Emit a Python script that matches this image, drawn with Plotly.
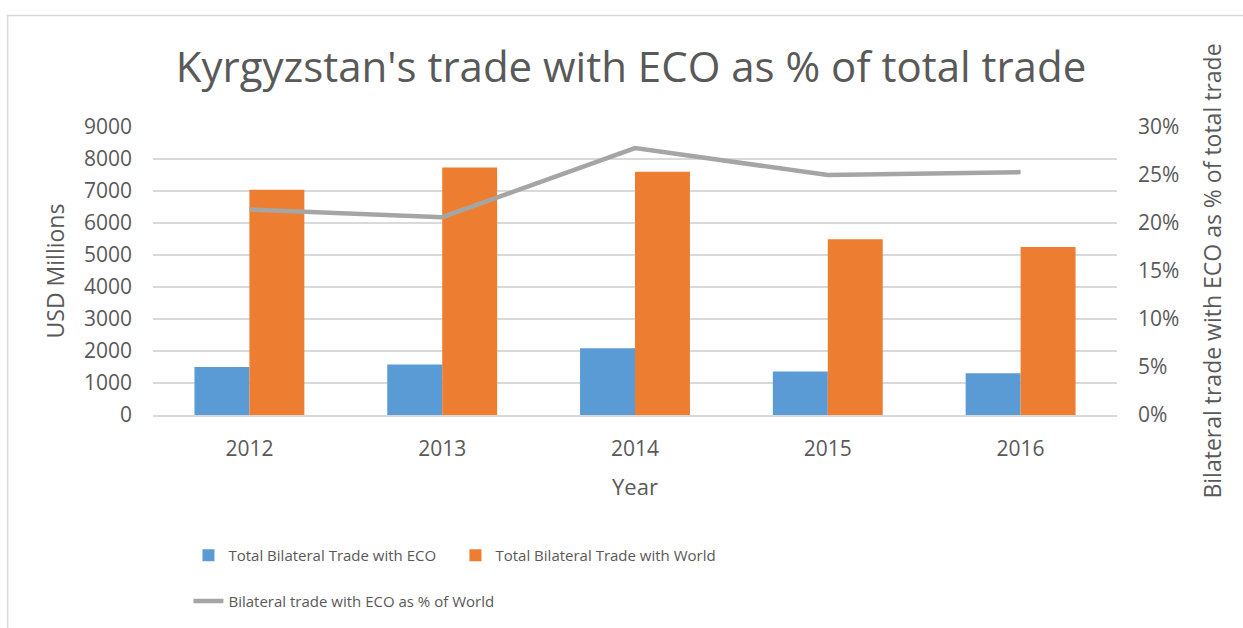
import plotly.graph_objects as go

years = ["2012", "2013", "2014", "2015", "2016"]
eco_trade = [1500, 1576, 2087, 1358, 1308]
world_trade = [7040, 7735, 7600, 5492, 5252]
eco_share = [0.214, 0.206, 0.278, 0.250, 0.253]

W, H = 1243, 628
L, R = 152.5, 1117.5
T, B = 126.7, 415.3
pw, ph = R - L, B - T

def px_x(x):
    return (x - L) / pw

def px_y(y):
    return (B - y) / ph

text_col = "#595959"
font_main = "Open Sans, Liberation Sans, sans-serif"
legend_font = "Open Sans, sans-serif"

fig = go.Figure()
fig.add_trace(go.Bar(x=years, y=eco_trade, name="Total Bilateral Trade with ECO",
                     marker=dict(color="#5b9bd5", line=dict(width=0)), legend="legend"))
fig.add_trace(go.Bar(x=years, y=world_trade, name="Total Bilateral Trade with World",
                     marker=dict(color="#ed7d31", line=dict(width=0)), legend="legend"))
fig.add_trace(go.Scatter(x=years, y=eco_share, name="Bilateral trade with ECO as % of World",
                         mode="lines", line=dict(color="#a5a5a5", width=4.5),
                         yaxis="y2", legend="legend2"))

fig.update_layout(
    width=W, height=H,
    margin=dict(l=L, r=W - R, t=T, b=H - B, autoexpand=False),
    paper_bgcolor="white", plot_bgcolor="white",
    barmode="group", bargap=0.43, bargroupgap=0,
    font=dict(family=font_main, color=text_col, size=20),
    title=dict(text="Kyrgyzstan's trade with ECO as % of total trade",
               x=631 / W, xref="container", xanchor="center",
               y=1 - 67 / H, yref="container", yanchor="middle",
               font=dict(size=42, color=text_col, family=font_main)),
    xaxis=dict(type="category", showgrid=False, showline=True, linecolor="#d9d9d9",
               linewidth=1.5, ticks="", ticklabelstandoff=14,
               tickfont=dict(size=21, color=text_col),
               title=dict(text="Year", standoff=19, font=dict(size=22, color=text_col))),
    yaxis=dict(range=[0, 9000], dtick=1000, showgrid=True, gridcolor="#d9d9d9",
               gridwidth=1.5, zeroline=False, showline=False, ticks="",
               ticklabelstandoff=20, tickfont=dict(size=21, color=text_col),
               title=dict(text="USD Millions", standoff=12, font=dict(size=23, color=text_col))),
    yaxis2=dict(range=[0, 0.3], dtick=0.05, tickformat=".0%", overlaying="y", side="right",
                showgrid=False, zeroline=False, showline=False, ticks="",
                ticklabelstandoff=20, tickfont=dict(size=21, color=text_col),
                title=dict(text="Bilateral trade with ECO as % of total trade", standoff=26,
                           font=dict(size=23, color=text_col))),
    legend=dict(orientation="h", x=px_x(188), xanchor="left", y=px_y(556), yanchor="middle",
                entrywidth=222, font=dict(size=15, color=text_col, family=legend_font),
                bgcolor="rgba(0,0,0,0)", tracegroupgap=0),
    legend2=dict(orientation="h", x=px_x(188), xanchor="left", y=px_y(602), yanchor="middle",
                 font=dict(size=15, color=text_col, family=legend_font),
                 bgcolor="rgba(0,0,0,0)"),
    shapes=[dict(type="rect", xref="paper", yref="paper",
                 x0=px_x(7), x1=px_x(1260), y0=px_y(660), y1=px_y(15),
                 line=dict(color="#d9d9d9", width=1.5), fillcolor="rgba(0,0,0,0)",
                 layer="below")],
)

fig.write_html("out.html", config={"displayModeBar": False},
               post_script="document.body.style.margin='0';")
